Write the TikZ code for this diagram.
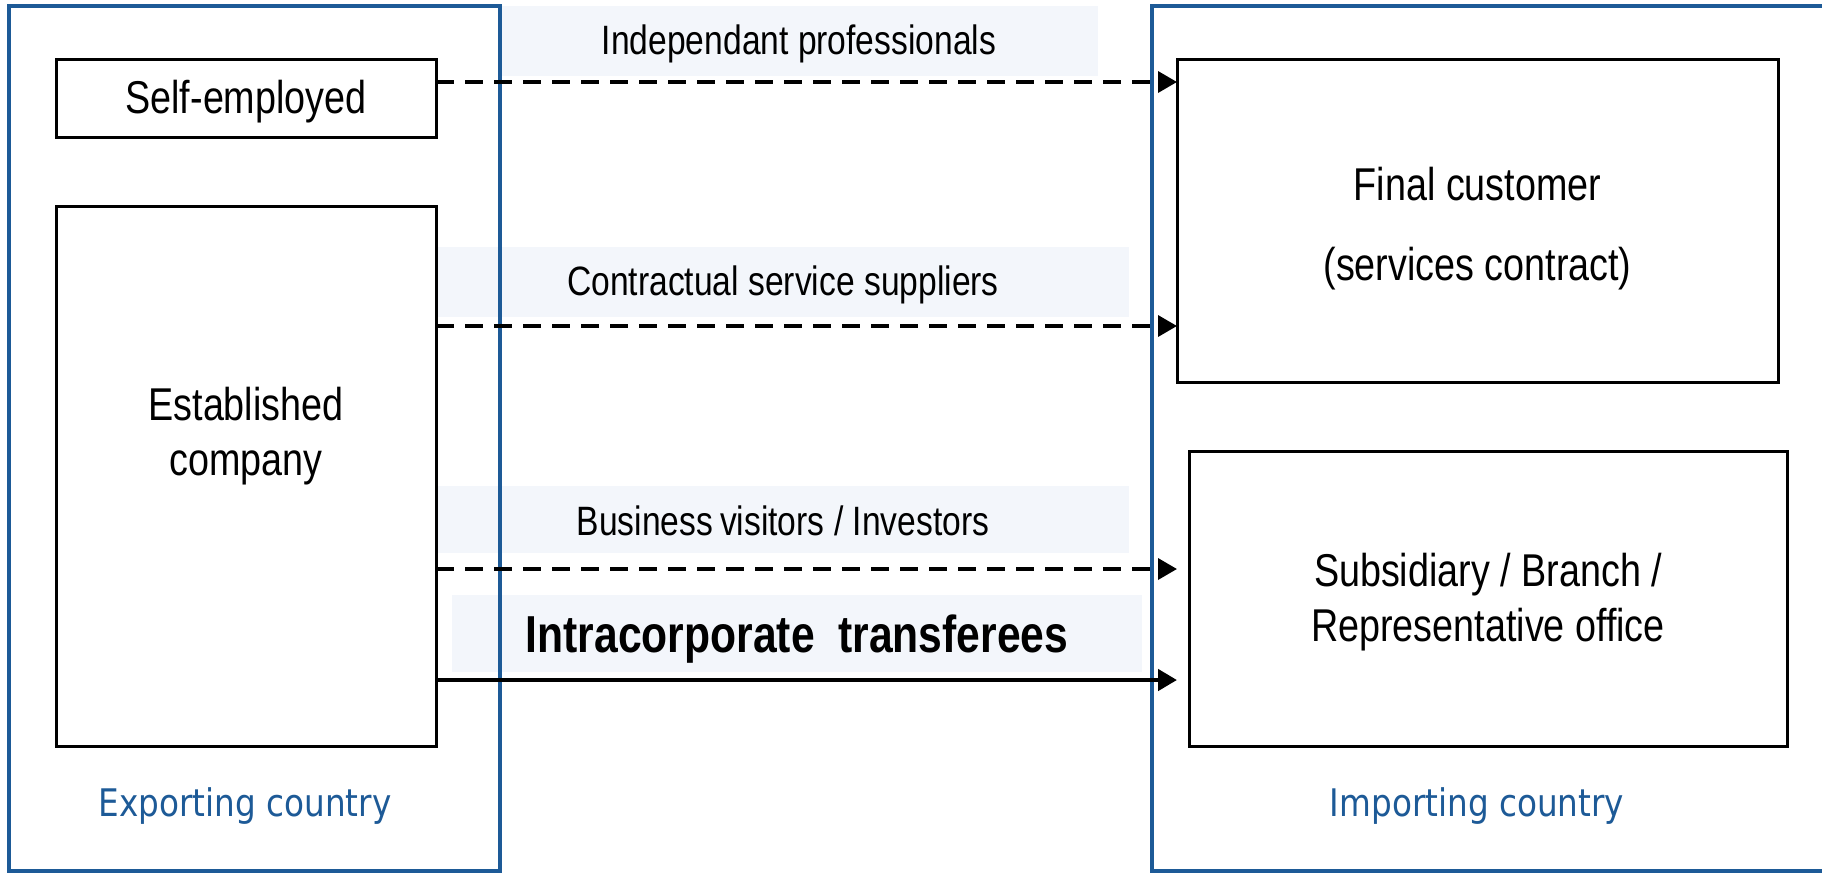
\documentclass[tikz,border=0pt]{standalone}
\usepackage{fontspec}
\setmainfont{Liberation Sans}[FakeStretch=0.82]
\newfontfamily\countryfont{DejaVu Sans}[FakeStretch=0.86]
\usetikzlibrary{arrows.meta,calc}
\definecolor{frameblue}{HTML}{1D5A97}
\definecolor{lblbg}{HTML}{F3F6FB}
\tikzset{
  frame/.style={draw=frameblue, line width=4pt},
  box/.style={draw, line width=3pt, inner sep=0pt, outer sep=0pt, align=center, font=\fontsize{46}{58}\selectfont},
  lbl/.style={fill=lblbg, inner sep=0pt, outer sep=0pt},
  lbltext/.style={font=\fontsize{41}{48}\selectfont},
  country/.style={text=frameblue, font=\countryfont\fontsize{38}{44}\selectfont},
  darrow/.style={line width=3.5pt, dash pattern=on 18pt off 11pt, -{Triangle[length=19pt,width=21pt]}},
  sarrow/.style={line width=4.5pt, -{Triangle[length=19pt,width=21pt]}}
}
\begin{document}
\begin{tikzpicture}[x=1pt,y=-1pt]
\useasboundingbox (0,0) rectangle (1822,873);
\clip (0,0) rectangle (1822,873);
\fill[white] (0,0) rectangle (1822,873);
% label backgrounds
\node[lbl, minimum width=598pt, minimum height=70pt] (lblind) at (799,41) {};
\node[lbl, minimum width=692pt, minimum height=70pt] (lblcon) at (783,282) {};
\node[lbl, minimum width=692pt, minimum height=67pt] (lblbus) at (783,519.5) {};
\node[lbl, minimum width=690pt, minimum height=77pt] (lblintra) at (797,633.5) {};
% country frames
\draw[frame] (9,6) rectangle (500,871);
\draw[frame] (1152,6) rectangle (1840,871);
% boxes
\node[box, minimum width=380pt, minimum height=78pt] (self) at (246,98) {};
\node[box, minimum width=380pt, minimum height=540pt] (est) at (246,476) {};
\node[box, minimum width=601pt, minimum height=323pt] (final) at (1477.5,220.5) {};
\node[box, minimum width=598pt, minimum height=295pt] (subs) at (1488,598.5) {};
% box texts
\node[font=\fontsize{46}{58}\selectfont] (selftext) at ($(self)+(0,4)$) {Self-employed};
\node[font=\fontsize{46}{55}\selectfont, align=center] (esttext) at (246,436) {Established\\company};
\node[font=\fontsize{46}{58}\selectfont, align=center] (finaltext) at (1477.5,229) {Final customer\\[22pt](services contract)};
\node[font=\fontsize{46}{55}\selectfont, align=center] (substext) at (1488,602) {Subsidiary / Branch /\\Representative office};
% label texts
\node[lbltext] (tind) at ($(lblind)+(0,3)$) {Independant professionals};
\node[lbltext] (tcon) at ($(lblcon)+(0,3)$) {Contractual service suppliers};
\node[lbltext] (tbus) at ($(lblbus)+(0,1)$) {Business\,visitors / Investors};
\node[font=\bfseries\fontsize{52}{60}\selectfont] (tintra) at ($(lblintra)+(0,6)$) {Intracorporate\ \ transferees};
% country labels
\node[country] (exp) at (245,806) {Exporting country};
\node[country] (imp) at (1477,806) {Importing country};
% arrows
\coordinate (a1) at ($(self.north east)+(0,23)$);
\coordinate (a2) at ($(est.north east)+(0,120)$);
\coordinate (a3) at ($(est.north east)+(0,363)$);
\coordinate (a4) at ($(est.north east)+(0,474)$);
\draw[darrow] (a1) -- (a1 -| final.west);
\draw[darrow] (a2) -- (a2 -| final.west);
\draw[darrow] (a3) -- (a3 -| final.west);
\draw[sarrow] (a4) -- (a4 -| final.west);
\end{tikzpicture}
\end{document}
